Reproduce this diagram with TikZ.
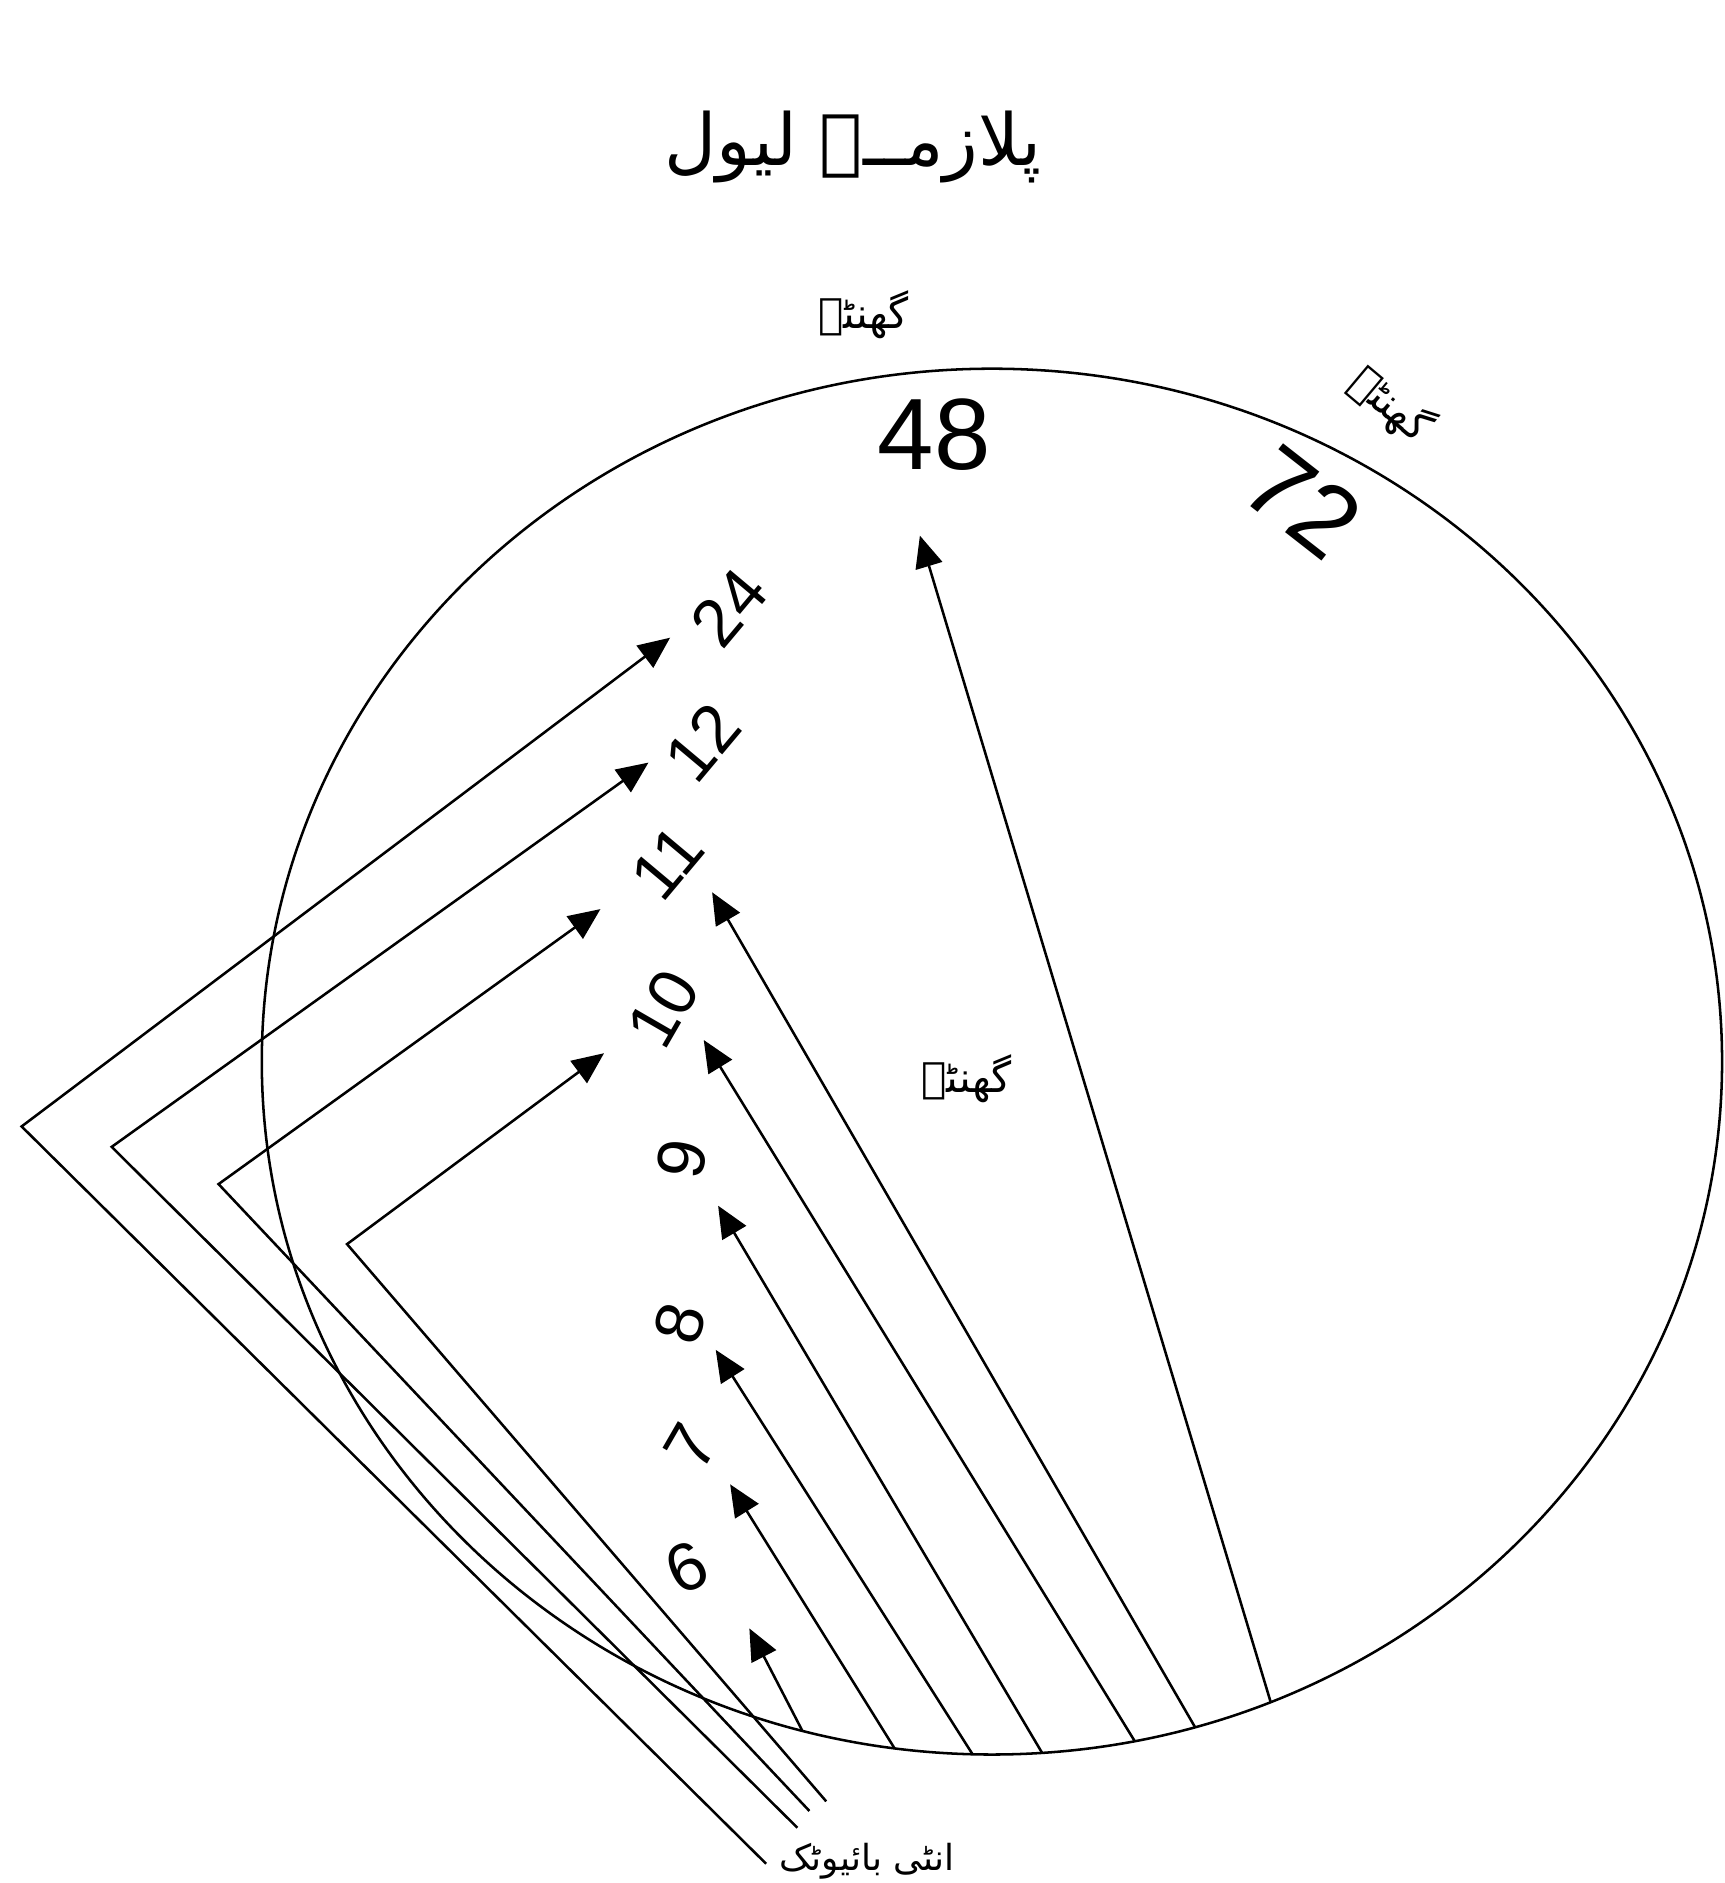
\documentclass[tikz,border=0pt]{standalone}
\usepackage{fontspec}
\setmainfont{Liberation Sans}
\newfontfamily\urdufont[Script=Arabic]{DejaVu Sans}
\TeXXeTstate=1
\usetikzlibrary{arrows.meta}

\begin{document}
\begin{tikzpicture}[x=0.01cm, y=-0.01cm, line width=0.6pt,
  tip/.style={-{Triangle[length=7.5pt, width=6.5pt]}},
  num/.style={font=\fontsize{16}{16}\selectfont, inner sep=0pt},
  bignum/.style={font=\fontsize{24}{24}\selectfont, inner sep=0pt},
  urdu/.style={font=\urdufont\fontsize{10}{10}\selectfont, inner sep=0pt}]
  \useasboundingbox (0,0) rectangle (1436,1568);
  \draw (826,884) ellipse [x radius=608, y radius=577];
  % arrows from the bottom of the circle
  \coordinate (b6) at (668,1441);   \coordinate (h6) at (624,1356);
  \coordinate (b7) at (745,1456);   \coordinate (h7) at (608,1236);
  \coordinate (b8) at (810,1461);   \coordinate (h8) at (596,1124);
  \coordinate (b9) at (868,1460);   \coordinate (h9) at (598,1004);
  \coordinate (b10) at (945,1450);  \coordinate (h10) at (586,866);
  \coordinate (b11) at (995,1438);  \coordinate (h11) at (593,743);
  \coordinate (b48) at (1058,1417); \coordinate (h48) at (766,446);
  \foreach \n in {6,7,8,9,10,11,48}
    \draw[tip] (b\n) -- (h\n);
  % bent arrows round the left side
  \coordinate (e24) at (638,1552); \coordinate (k24) at (18,938);   \coordinate (f24) at (558,531);
  \coordinate (e12) at (664,1522); \coordinate (k12) at (93,955);   \coordinate (f12) at (540,635);
  \coordinate (e11) at (674,1508); \coordinate (k11) at (182,986);  \coordinate (f11) at (500,757);
  \coordinate (e10) at (688,1500); \coordinate (k10) at (289,1036); \coordinate (f10) at (503,877);
  \foreach \n in {24,12,11,10}
    \draw[tip] (e\n) -- (k\n) -- (f\n);
  % hours
  \node[bignum] (n48) at (778,362) {48};
  \node[bignum, rotate=-38] (n72) at (1085,418) {72};
  \node[num, rotate=50] (n24) at (607,506) {24};
  \node[num, rotate=50] (n12) at (585,618) {12};
  \node[num, rotate=50] (n11) at (556,718) {11};
  \node[num, rotate=60] (n10) at (552,840) {10};
  \node[num, rotate=80] (n9) at (568,965) {9};
  \node[num, rotate=75] (n8) at (566,1102) {8};
  \node[num, rotate=60] (n7) at (575,1205) {7};
  \node[num, rotate=25] (n6) at (572,1305) {6};
  % urdu texts
  \node[font=\urdufont\fontsize{17}{17}\selectfont, inner sep=0pt] (title) at (710,122) {\beginR پلازمــہ لیول\endR};
  \node[urdu] (hrs1) at (719,262) {\beginR گھنٹے\endR};
  \node[urdu, rotate=-40] (hrs2) at (1158,337) {\beginR گھنٹے\endR};
  \node[urdu] (hrs3) at (805,898) {\beginR گھنٹے\endR};
  \node[urdu, font=\urdufont\fontsize{8.5}{8.5}\selectfont] (drug) at (722,1550) {\beginR انٹی بائیوٹک\endR};
\end{tikzpicture}
\end{document}
